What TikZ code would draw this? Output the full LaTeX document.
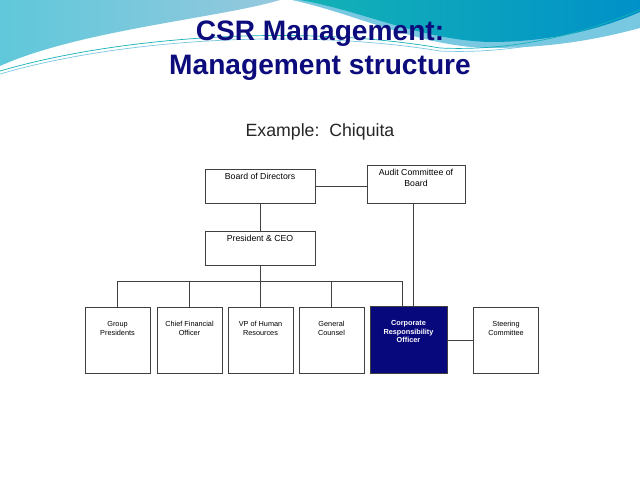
\documentclass[tikz,border=0pt]{standalone}
\usepackage{fontspec}
\setmainfont{Liberation Sans}
\definecolor{navybox}{RGB}{8,8,125}
\definecolor{titleblue}{RGB}{12,12,125}
\definecolor{skyleft}{RGB}{95,200,218}
\definecolor{skyright}{RGB}{150,200,222}
\definecolor{seaband}{RGB}{120,200,225}
\definecolor{sealeft}{RGB}{20,178,182}
\definecolor{searight}{RGB}{0,145,200}

\begin{document}
\begin{tikzpicture}[x=0.025cm, y=-0.025cm,
		box/.style={draw=black!75, line width=0.6pt, minimum width=1.625cm, minimum height=1.65cm, inner sep=0pt},
		topbox/.style={box, minimum width=2.75cm, minimum height=0.85cm},
		lbl/.style={anchor=north, align=center, inner sep=3pt, font=\fontsize{6.2}{7.6}\selectfont},
		sublbl/.style={lbl, yshift=-7.5pt, font=\fontsize{5.2}{5.9}\selectfont},
		title/.style={anchor=base, text=titleblue, font=\bfseries\fontsize{20}{24}\selectfont},
		link/.style={draw=black!75, line width=0.6pt}]
		\useasboundingbox[fill=white] (0,0) rectangle (640,480);
		\shade[left color=skyleft, right color=skyright] (0,0) -- (280,0) .. controls (220,18) and (80,30) .. (0,66) -- cycle;
		\fill[seaband] (292,0) .. controls (360,15) and (420,47) .. (490,48) .. controls (560,48) and (610,36) .. (640,28) -- (640,0) -- cycle;
		\shade[left color=sealeft, right color=searight] (300,0) .. controls (360,10) and (420,40) .. (490,42) .. controls (560,42) and (610,25) .. (640,12) -- (640,0) -- cycle;
		\draw[sealeft, line width=0.5pt] (0,71) .. controls (120,36) and (300,24) .. (440,48) .. controls (530,52) and (600,26) .. (640,10);
		\draw[seaband, line width=0.5pt] (0,74) .. controls (120,39) and (300,28) .. (440,51) .. controls (530,55) and (600,30) .. (640,14);
		\node[title] (t1) at (320,40) {CSR Management:};
		\node[title] (t2) at (320,74) {Management structure};
		\node[anchor=base, text=black!85, font=\fontsize{12.6}{15}\selectfont] (ex) at (320,136) {Example:\ \ Chiquita};
		\node[topbox, label={[lbl]north:Board of Directors}] (bod) at (260,186) {};
		\node[topbox, minimum width=2.45cm, minimum height=0.95cm, label={[lbl]north:Audit Committee of\\Board}] (audit) at (416,184) {};
		\node[topbox, label={[lbl]north:President \& CEO}] (pres) at (260,248) {};
		\node[box, label={[sublbl]north:Group\\Presidents}] (grp) at (117.5,340) {};
		\node[box, label={[sublbl]north:Chief Financial\\Officer}] (cfo) at (189.5,340) {};
		\node[box, label={[sublbl]north:VP of Human\\Resources}] (vp) at (260.5,340) {};
		\node[box, label={[sublbl]north:General\\Counsel}] (gc) at (331.5,340) {};
		\node[box, fill=navybox, minimum width=1.925cm, minimum height=1.675cm,
			label={[sublbl, text=white, font=\bfseries\fontsize{5.2}{5.9}\selectfont]north:Corporate\\Responsibility\\Officer}] (cro) at (408.5,339.5) {};
		\node[box, label={[sublbl]north:Steering\\Committee}] (steer) at (506,340) {};
		\coordinate (bus) at (0,281);
		\coordinate (crodrop) at ([xshift=-0.1625cm]cro.north);
		\coordinate (auddrop) at ([xshift=0.1125cm]cro.north);
		\draw[link] (bod.south) -- (pres.north);
		\draw[link] (bod.east) -- (bod.east -| audit.west);
		\draw[link] (auddrop |- audit.south) -- (auddrop);
		\draw[link] (pres.south) -- (pres.south |- vp.north);
		\draw[link] (grp.north) -- (grp.north |- bus) -- (crodrop |- bus) -- (crodrop);
		\draw[link] (cfo.north) -- (cfo.north |- bus);
		\draw[link] (gc.north) -- (gc.north |- bus);
		\draw[link] (steer.west -| cro.east) -- (steer.west);
\end{tikzpicture}
\end{document}
